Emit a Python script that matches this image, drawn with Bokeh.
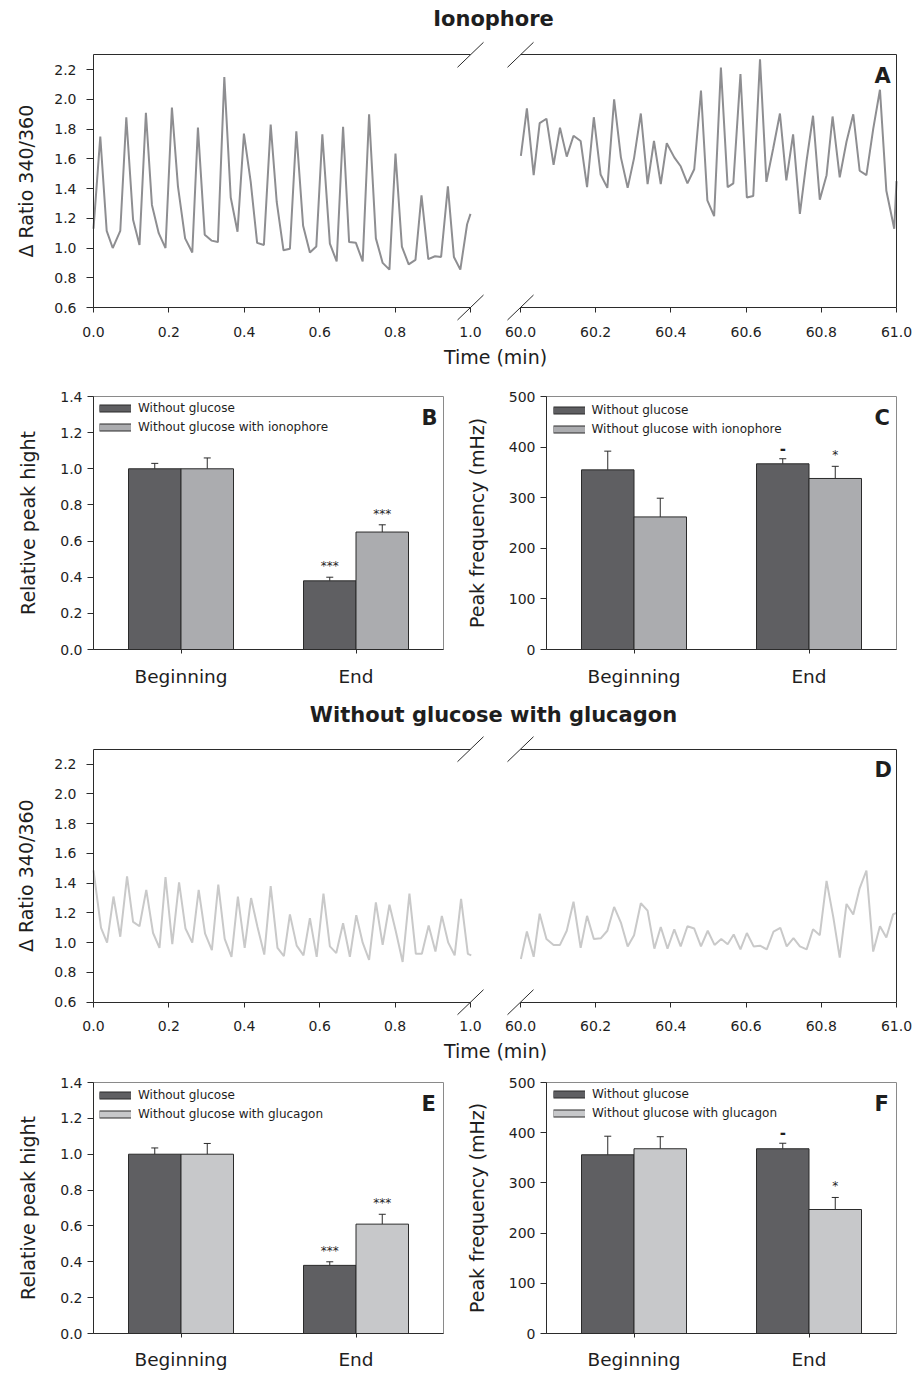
import math
from bokeh.plotting import figure
from bokeh.models import (Range1d, FactorRange, FixedTicker, PrintfTickFormatter, LinearAxis,
                          Arrow, Label, Legend, LegendItem, Whisker, TeeHead, ColumnDataSource)
from bokeh.transform import dodge
from bokeh.layouts import column, row
from bokeh.embed import file_html
from bokeh.resources import INLINE
from bokeh.core.properties import value

# ---------------- data ----------------
# Panel A (Ionophore) traces
tA1 = [0.000, 0.018, 0.035, 0.051, 0.071, 0.087, 0.105, 0.122, 0.139, 0.155, 0.173, 0.191,
       0.208, 0.224, 0.243, 0.262, 0.277, 0.295, 0.313, 0.330, 0.347, 0.364, 0.382, 0.399,
       0.417, 0.434, 0.452, 0.470, 0.486, 0.504, 0.521, 0.538, 0.556, 0.574, 0.591, 0.607,
       0.627, 0.645, 0.662, 0.678, 0.696, 0.714, 0.731, 0.749, 0.767, 0.785, 0.801, 0.818,
       0.836, 0.854, 0.870, 0.888, 0.906, 0.922, 0.940, 0.956, 0.973, 0.991, 1.000]
vA1 = [1.13, 1.75, 1.115, 1.00, 1.115, 1.88, 1.19, 1.02, 1.91, 1.29, 1.10, 1.00,
       1.945, 1.415, 1.065, 0.97, 1.81, 1.09, 1.05, 1.04, 2.15, 1.34, 1.11, 1.77,
       1.445, 1.035, 1.02, 1.83, 1.31, 0.985, 0.995, 1.785, 1.15, 0.97, 1.01, 1.765,
       1.03, 0.91, 1.815, 1.04, 1.035, 0.91, 1.90, 1.065, 0.90, 0.855, 1.635, 1.01,
       0.89, 0.92, 1.355, 0.925, 0.945, 0.94, 1.415, 0.94, 0.855, 1.16, 1.23]
tA2 = [60.001, 60.017, 60.035, 60.051, 60.069, 60.088, 60.105, 60.123, 60.141, 60.160,
       60.177, 60.195, 60.213, 60.231, 60.249, 60.267, 60.285, 60.302, 60.320, 60.338,
       60.355, 60.373, 60.389, 60.409, 60.426, 60.444, 60.462, 60.480, 60.497, 60.515,
       60.533, 60.551, 60.566, 60.585, 60.602, 60.619, 60.637, 60.654, 60.672, 60.690,
       60.707, 60.725, 60.743, 60.761, 60.778, 60.796, 60.814, 60.830, 60.849, 60.867,
       60.885, 60.902, 60.920, 60.938, 60.956, 60.973, 60.994, 61.000]
vA2 = [1.62, 1.94, 1.49, 1.84, 1.87, 1.56, 1.81, 1.615, 1.755, 1.72,
       1.41, 1.88, 1.495, 1.405, 2.00, 1.61, 1.405, 1.605, 1.905, 1.43,
       1.72, 1.43, 1.705, 1.61, 1.55, 1.435, 1.53, 2.06, 1.32, 1.215,
       2.215, 1.41, 1.435, 2.17, 1.34, 1.35, 2.27, 1.445, 1.67, 1.905,
       1.455, 1.765, 1.23, 1.59, 1.89, 1.325, 1.49, 1.885, 1.475, 1.715,
       1.90, 1.52, 1.49, 1.80, 2.065, 1.385, 1.13, 1.45]

# Panel D (without glucose with glucagon) traces
tD1 = [0.000, 0.020, 0.036, 0.053, 0.071, 0.089, 0.105, 0.122, 0.140, 0.158, 0.175, 0.191,
       0.209, 0.227, 0.244, 0.262, 0.279, 0.296, 0.314, 0.331, 0.348, 0.366, 0.383, 0.401,
       0.418, 0.435, 0.453, 0.470, 0.488, 0.505, 0.521, 0.539, 0.557, 0.574, 0.592, 0.610,
       0.627, 0.644, 0.662, 0.680, 0.697, 0.714, 0.731, 0.749, 0.767, 0.785, 0.802, 0.820,
       0.838, 0.855, 0.871, 0.889, 0.907, 0.924, 0.941, 0.958, 0.975, 0.993, 1.002]
vD1 = [1.485, 1.10, 1.00, 1.31, 1.04, 1.445, 1.14, 1.11, 1.355, 1.065, 0.965, 1.44,
       0.99, 1.405, 1.095, 1.00, 1.355, 1.06, 0.95, 1.39, 1.025, 0.905, 1.31, 0.965,
       1.30, 1.105, 0.92, 1.38, 0.965, 0.91, 1.19, 0.98, 0.915, 1.165, 0.905, 1.33,
       0.975, 0.93, 1.13, 0.905, 1.185, 1.00, 0.885, 1.27, 0.985, 1.255, 1.075, 0.87,
       1.33, 0.925, 0.925, 1.115, 0.94, 1.18, 1.00, 0.915, 1.295, 0.925, 0.915]
tD2 = [60.001, 60.017, 60.035, 60.051, 60.069, 60.088, 60.105, 60.123, 60.141, 60.160,
       60.177, 60.195, 60.214, 60.231, 60.249, 60.267, 60.285, 60.302, 60.320, 60.338,
       60.356, 60.373, 60.391, 60.409, 60.426, 60.444, 60.462, 60.480, 60.498, 60.516,
       60.534, 60.551, 60.567, 60.585, 60.602, 60.620, 60.637, 60.655, 60.673, 60.691,
       60.708, 60.726, 60.743, 60.761, 60.778, 60.796, 60.814, 60.832, 60.849, 60.867,
       60.885, 60.902, 60.920, 60.938, 60.956, 60.973, 60.991, 61.000]
vD2 = [0.89, 1.075, 0.905, 1.195, 1.025, 0.985, 0.985, 1.08, 1.275, 0.965,
       1.18, 1.025, 1.03, 1.08, 1.24, 1.135, 0.975, 1.05, 1.265, 1.215,
       0.96, 1.105, 0.96, 1.09, 0.975, 1.11, 1.095, 0.975, 1.08, 0.985,
       1.025, 0.99, 1.055, 0.955, 1.065, 0.975, 0.98, 0.955, 1.075, 1.10,
       0.975, 1.03, 0.975, 0.955, 1.09, 1.05, 1.415, 1.17, 0.90, 1.26,
       1.19, 1.365, 1.485, 0.94, 1.11, 1.035, 1.19, 1.20]

ratio_ticks = [0.6, 0.8, 1.0, 1.2, 1.4, 1.6, 1.8, 2.0, 2.2]
left_time_ticks = [0.0, 0.2, 0.4, 0.6, 0.8, 1.0]
right_time_ticks = [60.0, 60.2, 60.4, 60.6, 60.8, 61.0]

categories = ["Beginning", "End"]
height_ticks = [0.0, 0.2, 0.4, 0.6, 0.8, 1.0, 1.2, 1.4]
freq_ticks = [0, 100, 200, 300, 400, 500]

# Panel B
B_dark = [1.00, 0.38]
B_dark_err = [0.03, 0.02]
B_light = [1.00, 0.65]
B_light_err = [0.06, 0.04]
B_dark_marks = ["", "***"]
B_light_marks = ["", "***"]
# Panel C
C_dark = [355, 367]
C_dark_err = [37, 10]
C_light = [262, 338]
C_light_err = [37, 24]
C_dark_marks = ["", "-"]
C_light_marks = ["", "*"]
# Panel E
E_dark = [1.00, 0.38]
E_dark_err = [0.035, 0.02]
E_light = [1.00, 0.61]
E_light_err = [0.06, 0.055]
E_dark_marks = ["", "***"]
E_light_marks = ["", "***"]
# Panel F
F_dark = [356, 368]
F_dark_err = [37, 11]
F_light = [368, 247]
F_light_err = [24, 24]
F_dark_marks = ["", "-"]
F_light_marks = ["", "*"]

# ---------------- styling ----------------
FONT = "DejaVu Sans"
AX = "#2b2b2b"
TXT = "#1e1e1e"
DARK = "#5f5f62"
LIGHT_ION = "#abacaf"
LIGHT_GLU = "#c7c8ca"
TRACE_A = "#8e8e91"
TRACE_D = "#c9c9c9"
W = 912


def style_axis(ax, tick_out, standoff, label_size="14px", label_standoff=10):
    ax.axis_line_color = AX
    ax.axis_line_width = 1
    ax.major_tick_line_color = AX
    ax.major_tick_out = tick_out
    ax.major_tick_in = 0
    ax.minor_tick_line_color = None
    ax.major_label_text_font = FONT
    ax.major_label_text_font_size = label_size
    ax.major_label_text_color = TXT
    ax.major_label_standoff = standoff
    ax.axis_label_text_font = FONT
    ax.axis_label_text_font_size = "19px"
    ax.axis_label_text_font_style = "normal"
    ax.axis_label_text_color = TXT
    ax.axis_label_standoff = label_standoff


def px_label(p, x, y, txt, size, style="normal", angle=0.0):
    p.add_layout(Label(x=x, y=y, x_range_name="px", y_range_name="px", text=txt,
                       text_align="center", text_baseline="middle", angle=angle,
                       text_font=FONT, text_font_size=size, text_font_style=style,
                       text_color=TXT))


def trace_block(H, title, title_cy, top_px, bottom_px, time_cy, t1, v1, t2, v2, color, let):
    # pixel geometry of the two time segments (broken axis)
    x0L, x1L = 93.0, 470.0
    x0R, x1R = 520.0, 896.0
    y_lo, y_hi = 0.6, 2.3
    ppu_y = (bottom_px - top_px) / (y_hi - y_lo)
    ppu_l = (x1L - x0L) / (left_time_ticks[-1] - left_time_ticks[0])
    ppu_r = (x1R - x0R) / (right_time_ticks[-1] - right_time_ticks[0])
    xr = Range1d(left_time_ticks[0] - x0L / ppu_l, left_time_ticks[-1] + (W - x1L) / ppu_l)
    xr_late = Range1d(right_time_ticks[0] - x0R / ppu_r, right_time_ticks[-1] + (W - x1R) / ppu_r)
    yr = Range1d(y_lo - (H - bottom_px) / ppu_y, y_hi + top_px / ppu_y)
    p = figure(width=W, height=H, x_range=xr, y_range=yr, x_axis_location=None,
               y_axis_location=None, output_backend="svg", toolbar_location=None,
               min_border=0, outline_line_color=None)
    p.grid.grid_line_color = None
    p.background_fill_color = "white"
    p.border_fill_color = "white"
    p.extra_x_ranges = {"late": xr_late, "px": Range1d(0, W)}
    p.extra_y_ranges = {"px": Range1d(H, 0)}

    p.line(t1, v1, line_color=color, line_width=2)
    p.line(t2, v2, line_color=color, line_width=2, x_range_name="late")

    t0, t1e = left_time_ticks[0], left_time_ticks[-1]
    r0, r1 = right_time_ticks[0], right_time_ticks[-1]

    yax = LinearAxis(fixed_location=t0, bounds=(y_lo, y_hi), ticker=FixedTicker(ticks=ratio_ticks),
                     formatter=PrintfTickFormatter(format="%.1f"))
    style_axis(yax, 7, 10)
    p.add_layout(yax, "left")

    xaxL = LinearAxis(fixed_location=y_lo, bounds=(t0, t1e), ticker=FixedTicker(ticks=left_time_ticks),
                      formatter=PrintfTickFormatter(format="%.1f"))
    style_axis(xaxL, 5, 14)
    p.add_layout(xaxL, "below")
    xaxR = LinearAxis(x_range_name="late", fixed_location=y_lo, bounds=(r0, r1),
                      ticker=FixedTicker(ticks=right_time_ticks),
                      formatter=PrintfTickFormatter(format="%.1f"))
    style_axis(xaxR, 5, 14)
    p.add_layout(xaxR, "below")

    # frame lines of the two segments (top of both, right side of late segment)
    for kw, place, loc, bnds in ((dict(), "above", y_hi, (t0, t1e)),
                                 (dict(x_range_name="late"), "above", y_hi, (r0, r1)),
                                 (dict(x_range_name="late"), "right", r1, (y_lo, y_hi))):
        b = LinearAxis(fixed_location=loc, bounds=bnds, ticker=FixedTicker(ticks=[]), **kw)
        style_axis(b, 0, 0)
        b.major_tick_line_color = None
        p.add_layout(b, place)

    # axis-break marks
    dx_l, dx_r, dy = 13 / ppu_l, 13 / ppu_r, 12.5 / ppu_y
    for yy in (y_hi, y_lo):
        p.add_layout(Arrow(end=None, x_start=t1e - dx_l, y_start=yy - dy, x_end=t1e + dx_l,
                           y_end=yy + dy, line_color=AX, line_width=1))
        p.add_layout(Arrow(end=None, x_start=r0 - dx_r, y_start=yy - dy, x_end=r0 + dx_r,
                           y_end=yy + dy, line_color=AX, line_width=1, x_range_name="late"))

    px_label(p, 493, title_cy, title, "21px", "bold")
    px_label(p, 495, time_cy, "Time (min)", "19px")
    px_label(p, 25, (top_px + bottom_px) / 2, "\u0394 Ratio 340/360", "19px", angle=math.pi / 2)
    p.add_layout(Label(x=r1, y=y_hi, x_range_name="late", x_offset=-22, y_offset=-21, text=let,
                       text_align="left", text_baseline="middle", text_font=FONT,
                       text_font_size="21px", text_font_style="bold", text_color=TXT))
    return p


def bar_panel(w, h, mbl, mbr, mbt, mbb, ymax, yticks, fmt, ylabel,
              dark, dark_err, light, light_err, light_color, dmarks, lmarks, labels, let,
              leg_x, leg_top, cat_standoff):
    xr = FactorRange(factors=categories, range_padding=0)
    p = figure(width=w, height=h, x_range=xr, y_range=Range1d(0, ymax), output_backend="svg",
               toolbar_location=None, min_border_left=mbl, min_border_right=mbr,
               min_border_top=mbt, min_border_bottom=mbb)
    p.grid.grid_line_color = None
    p.background_fill_color = "white"
    p.border_fill_color = "white"
    p.outline_line_color = "#8a8a8a"
    p.outline_line_width = 1
    frame_w = w - mbl - mbr
    frame_h = h - mbt - mbb

    src = ColumnDataSource(dict(
        cat=categories, dark=dark, light=light,
        dark_hi=[a + b for a, b in zip(dark, dark_err)],
        light_hi=[a + b for a, b in zip(light, light_err)],
        dmark=dmarks, lmark=lmarks,
        dstyle=["bold" if m == "-" else "normal" for m in dmarks],
        lstyle=["bold" if m == "-" else "normal" for m in lmarks],
        dsize=["15px" if m == "-" else "12px" for m in dmarks],
        lsize=["15px" if m == "-" else "12px" for m in lmarks],
    ))
    xd = dodge("cat", -0.15, range=xr)
    xl = dodge("cat", 0.15, range=xr)
    p.vbar(x=xd, top="dark", width=0.3, source=src, fill_color=DARK, line_color=AX, line_width=1)
    p.vbar(x=xl, top="light", width=0.3, source=src, fill_color=light_color, line_color=AX,
           line_width=1)
    for base, lo, hi in ((xd, "dark", "dark_hi"), (xl, "light", "light_hi")):
        p.add_layout(Whisker(source=src, base=base, lower=lo, upper=hi, line_color=AX,
                             line_width=1, lower_head=None,
                             upper_head=TeeHead(size=7, line_color=AX, line_width=1)))
    p.text(x=xd, y="dark_hi", text="dmark", source=src, text_align="center",
           text_baseline="middle", y_offset=-11, text_font=value(FONT),
           text_font_size="dsize", text_font_style="dstyle", text_color=TXT)
    p.text(x=xl, y="light_hi", text="lmark", source=src, text_align="center",
           text_baseline="middle", y_offset=-11, text_font=value(FONT),
           text_font_size="lsize", text_font_style="lstyle", text_color=TXT)

    ya = p.yaxis[0]
    style_axis(ya, 6, 5, label_standoff=18)
    ya.ticker = FixedTicker(ticks=yticks)
    if fmt:
        ya.formatter = PrintfTickFormatter(format=fmt)
    ya.axis_label = ylabel
    xa = p.xaxis[0]
    style_axis(xa, 4, cat_standoff, label_size="18.5px")

    # legend swatches (outlined boxes); the lines themselves draw nothing in the frame
    nan_y = [float("nan")]
    one_x = categories[:1]
    sw_out_d = p.line(x=one_x, y=nan_y, line_color=AX, line_width=8)
    sw_in_d = p.line(x=one_x, y=nan_y, line_color=DARK, line_width=6)
    sw_out_l = p.line(x=one_x, y=nan_y, line_color=AX, line_width=8)
    sw_in_l = p.line(x=one_x, y=nan_y, line_color=light_color, line_width=6)
    row_h, gap = 16, 3
    leg_h = 2 * row_h + gap
    legend = Legend(items=[LegendItem(label=labels[0], renderers=[sw_out_d, sw_in_d]),
                           LegendItem(label=labels[1], renderers=[sw_out_l, sw_in_l])],
                    location=(leg_x, frame_h - leg_h - leg_top), orientation="vertical",
                    margin=0, padding=0, spacing=gap, glyph_width=32, glyph_height=row_h,
                    label_standoff=7, label_height=row_h, label_text_font=FONT,
                    label_text_font_size="12px", label_text_color=TXT,
                    border_line_color=None, background_fill_alpha=0)
    p.add_layout(legend)
    p.add_layout(Label(x=frame_w - 22, x_units="screen", y=ymax, y_offset=-21, text=let,
                       text_align="left", text_baseline="middle", text_font=FONT,
                       text_font_size="21px", text_font_style="bold", text_color=TXT))
    return p


blockA = trace_block(372, "Ionophore", 18.5, 54.3, 307.0, 356.3, tA1, vA1, tA2, vA2, TRACE_A, "A")

B = bar_panel(456, 320, 93, 13, 24, 43, 1.4, height_ticks, "%.1f", "Relative peak hight",
              B_dark, B_dark_err, B_light, B_light_err, LIGHT_ION, B_dark_marks, B_light_marks,
              ["Without glucose", "Without glucose with ionophore"], "B", 6, 3.6, 12)
C = bar_panel(456, 320, 90, 16, 24, 43, 500, freq_ticks, None, "Peak frequency (mHz)",
              C_dark, C_dark_err, C_light, C_light_err, LIGHT_ION, C_dark_marks, C_light_marks,
              ["Without glucose", "Without glucose with ionophore"], "C", 6.5, 6, 12)

blockD = trace_block(374, "Without glucose with glucagon", 22.3, 56.7, 309.7, 358.8,
                     tD1, vD1, tD2, vD2, TRACE_D, "D")

E = bar_panel(456, 306, 93, 13, 16, 38, 1.4, height_ticks, "%.1f", "Relative peak hight",
              E_dark, E_dark_err, E_light, E_light_err, LIGHT_GLU, E_dark_marks, E_light_marks,
              ["Without glucose", "Without glucose with glucagon"], "E", 6, 5.5, 11)
F = bar_panel(456, 306, 90, 16, 16, 38, 500, freq_ticks, None, "Peak frequency (mHz)",
              F_dark, F_dark_err, F_light, F_light_err, LIGHT_GLU, F_dark_marks, F_light_marks,
              ["Without glucose", "Without glucose with glucagon"], "F", 7, 4.7, 11)

layout = column(blockA, row(B, C), blockD, row(E, F))

with open("out.html", "w") as f:
    f.write(file_html(layout, INLINE, title="Ionophore and glucagon"))
